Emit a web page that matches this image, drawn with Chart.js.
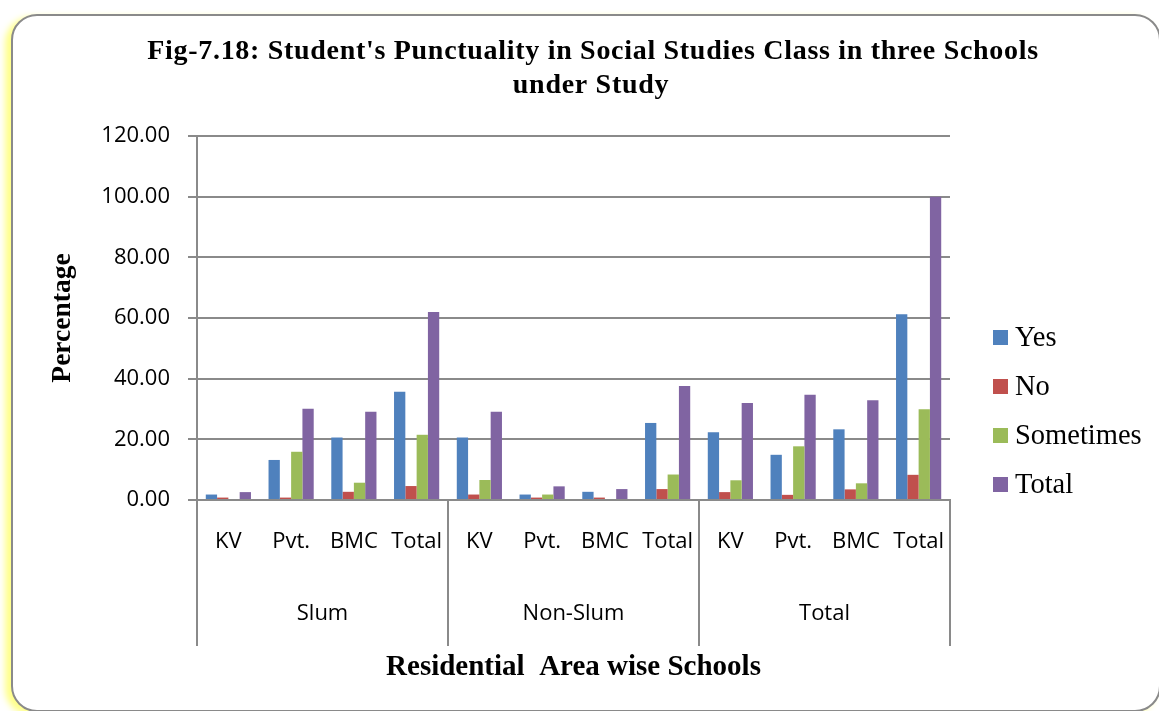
<!DOCTYPE html>
<html>
<head>
<meta charset="utf-8">
<script src="https://cdn.jsdelivr.net/npm/chart.js@4/dist/chart.umd.min.js"></script>
<style>
  html, body { margin: 0; padding: 0; background: #fff; }
  #wrap { position: relative; width: 1159px; height: 711px; overflow: hidden; }
  #frame {
    position: absolute; left: 11px; top: 14px; width: 1150px; height: 698px;
    border: 2px solid #8a8a8a; border-radius: 26px; box-sizing: border-box;
    box-shadow: -6px 3px 6px rgba(255, 255, 60, 0.6);
    background: #fff;
  }
  #c { position: absolute; left: 0; top: 0; }
</style>
</head>
<body>
<div id="wrap">
  <div id="frame"></div>
  <canvas id="c" width="1159" height="711"></canvas>
</div>
<script>
// School types within each residential area
const schoolTypes = ['KV', 'Pvt.', 'BMC', 'Total'];
// Residential areas
const areas = ['Slum', 'Non-Slum', 'Total'];
// Percentage of students per response (Slum | Non-Slum | Total)
const yes       = [1.8, 13.2, 20.6, 35.7,   20.6, 1.8, 2.7, 25.4,   22.3, 14.9, 23.3, 61.2];
const no        = [0.8, 0.8, 2.7, 4.6,      1.8, 0.8, 0.8, 3.6,     2.6, 1.7, 3.5, 8.3];
const sometimes = [0, 15.9, 5.7, 21.5,      6.6, 1.8, 0, 8.4,       6.5, 17.7, 5.5, 29.9];
const total     = [2.6, 30.1, 29.1, 62.0,   29.1, 4.5, 3.6, 37.6,   32.0, 34.7, 32.9, 100];
// Value axis tick labels
const yTickLabels = ['0.00', '20.00', '40.00', '60.00', '80.00', '100.00', '120.00'];

const titleLines = ["Fig-7.18: Student's Punctuality in Social Studies Class in three Schools", 'under Study'];
const seriesNames = ['Yes', 'No', 'Sometimes', 'Total'];
const seriesColors = ['#4F81BD', '#C0504D', '#9BBB59', '#8064A2'];

const labels = [];
areas.forEach(() => schoolTypes.forEach(t => labels.push(t)));

const axisGrey = '#8a8a8a';
const sansFont = "'Open Sans', 'Liberation Sans', sans-serif";
const serifFont = "'Liberation Serif', 'DejaVu Serif', serif";

// Title, legend, area group labels and the separators under the category axis
const decorations = {
  id: 'decorations',
  afterDraw(chart) {
    const ctx = chart.ctx;
    const x = chart.scales.x;
    ctx.save();

    // title
    ctx.fillStyle = '#000';
    ctx.textAlign = 'center';
    ctx.textBaseline = 'middle';
    ctx.font = 'bold 28px ' + serifFont;
    ctx.letterSpacing = '0.7px';
    ctx.fillText(titleLines[0], 593, 52);
    ctx.fillText(titleLines[1], 591, 86);
    ctx.letterSpacing = '0px';

    // group separators and area labels
    const n = labels.length;
    const cw = (x.right - x.left) / n;
    ctx.strokeStyle = axisGrey;
    ctx.lineWidth = 2;
    for (let g = 0; g <= areas.length; g++) {
      const bx = Math.round(x.left + g * schoolTypes.length * cw);
      ctx.beginPath();
      ctx.moveTo(bx, x.top);
      ctx.lineTo(bx, x.top + 146);
      ctx.stroke();
    }
    ctx.font = '22px ' + sansFont;
    areas.forEach((a, g) => {
      const cx = x.left + (g + 0.5) * schoolTypes.length * cw;
      ctx.fillText(a, cx, x.top + 114);
    });

    // legend
    ctx.textAlign = 'left';
    ctx.font = '28.5px ' + serifFont;
    chart.data.datasets.forEach((ds, i) => {
      const cy = 338 + i * 49;
      ctx.fillStyle = ds.backgroundColor;
      ctx.fillRect(993, cy - 8, 15, 15);
      ctx.fillStyle = '#000';
      ctx.fillText(ds.label, 1015, cy + 1);
    });
    ctx.restore();
  }
};

new Chart(document.getElementById('c'), {
  type: 'bar',
  data: {
    labels: labels,
    datasets: [yes, no, sometimes, total].map((d, i) => ({
      label: seriesNames[i],
      data: d,
      backgroundColor: seriesColors[i],
      borderWidth: 0,
      categoryPercentage: 0.72,
      barPercentage: 1.0
    }))
  },
  options: {
    responsive: false,
    animation: false,
    layout: { padding: { top: 136, left: 0, right: 209, bottom: 21 } },
    plugins: {
      legend: { display: false },
      title: { display: false },
      tooltip: { enabled: false }
    },
    scales: {
      x: {
        grid: { display: false, drawTicks: false },
        border: { display: true, color: axisGrey, width: 2 },
        ticks: { color: '#000', font: { family: sansFont, size: 22 }, padding: 29, maxRotation: 0, autoSkip: false },
        title: {
          display: true, text: 'Residential  Area wise Schools', color: '#000',
          font: { family: serifFont, size: 29, weight: 'bold' }, padding: { top: 0, bottom: 5 }
        },
        afterFit(scale) { scale.height = 190; }
      },
      y: {
        min: 0, max: 120,
        grid: { color: axisGrey, lineWidth: 2, tickLength: 9, drawTicks: true },
        border: { display: true, color: axisGrey, width: 2 },
        ticks: {
          stepSize: 20, color: '#000', padding: 18,
          font: { family: sansFont, size: 22 },
          callback: (v) => yTickLabels[Math.round(v / 20)]
        },
        title: {
          display: true, text: 'Percentage', color: '#000',
          font: { family: serifFont, size: 27.5, weight: 'bold' }, padding: { top: 46, bottom: 0 }
        },
        afterFit(scale) { scale.width = 197; }
      }
    }
  },
  plugins: [decorations]
});
</script>
</body>
</html>
